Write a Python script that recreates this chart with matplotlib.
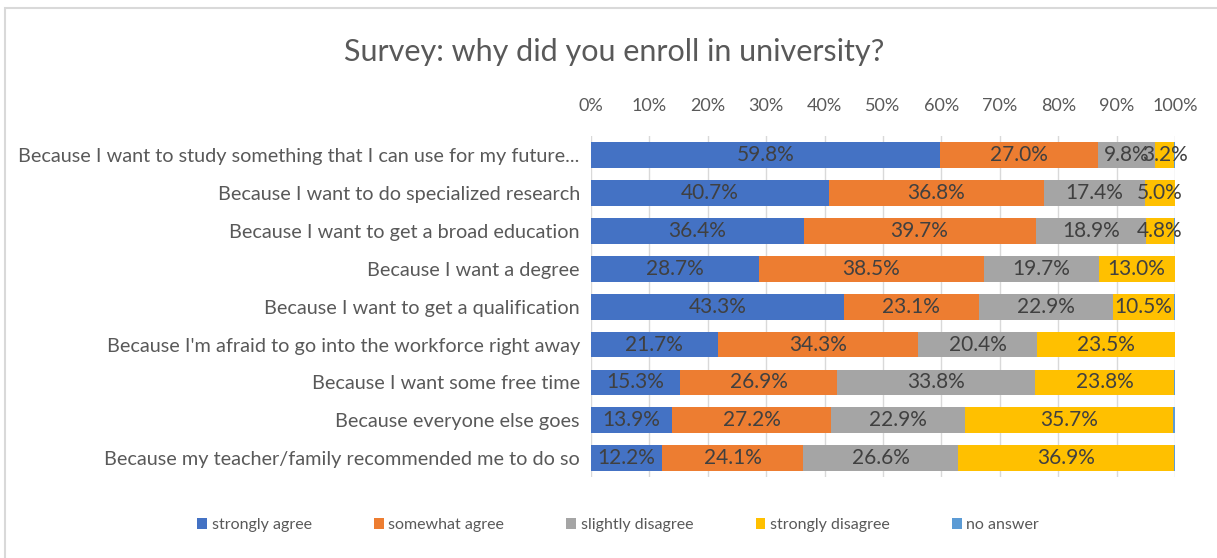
import numpy as np
import matplotlib.pyplot as plt
from matplotlib.patches import Rectangle

plt.rcParams['font.family'] = ['Lato', 'DejaVu Sans']

reasons = [
    'Because I want to study something that I can use for my future...',
    'Because I want to do specialized research',
    'Because I want to get a broad education',
    'Because I want a degree',
    'Because I want to get a qualification',
    "Because I'm afraid to go into the workforce right away",
    'Because I want some free time',
    'Because everyone else goes',
    'Because my teacher/family recommended me to do so',
]
strongly_agree = [59.8, 40.7, 36.4, 28.7, 43.3, 21.7, 15.3, 13.9, 12.2]
somewhat_agree = [27.0, 36.8, 39.7, 38.5, 23.1, 34.3, 26.9, 27.2, 24.1]
slightly_disagree = [9.8, 17.4, 18.9, 19.7, 22.9, 20.4, 33.8, 22.9, 26.6]
strongly_disagree = [3.2, 5.0, 4.8, 13.0, 10.5, 23.5, 23.8, 35.7, 36.9]
no_answer = [0.2, 0.1, 0.2, 0.1, 0.2, 0.1, 0.2, 0.3, 0.2]

series = [
    ('strongly agree', strongly_agree, '#4472C4'),
    ('somewhat agree', somewhat_agree, '#ED7D31'),
    ('slightly disagree', slightly_disagree, '#A5A5A5'),
    ('strongly disagree', strongly_disagree, '#FFC000'),
    ('no answer', no_answer, '#5B9BD5'),
]

fig = plt.figure(figsize=(12.17, 5.58), dpi=100)
ax = fig.add_axes([0.4856, 0.145, 0.48, 0.611])

# outer chart frame
fig.patches.append(Rectangle((0.004, -0.01), 1.0, 0.996, transform=fig.transFigure,
                             fill=False, edgecolor='#D9D9D9', lw=1.5))

y = np.arange(len(reasons))
left = np.zeros(len(reasons))
for name, vals, col in series:
    vals = np.array(vals)
    bars = ax.barh(y, vals, left=left, height=0.68, color=col, label=name, zorder=2)
    if name != 'no answer':
        ax.bar_label(bars, labels=['%.1f%%' % v for v in vals], label_type='center',
                     color='#404040', fontsize=15)
    left += vals

ax.set_xlim(0, 100)
ax.set_ylim(len(reasons) - 0.5, -0.5)
ax.set_yticks(y)
ax.set_yticklabels(reasons, fontsize=14.3, color='#595959')
ax.set_xticks(np.arange(0, 101, 10))
ax.set_xticklabels(['%d%%' % t for t in range(0, 101, 10)], fontsize=13, color='#595959')
ax.xaxis.tick_top()
ax.tick_params(axis='x', length=0, pad=16)
ax.tick_params(axis='y', length=0, pad=8)
ax.grid(axis='x', color='#D9D9D9', lw=1, zorder=0)
ax.set_axisbelow(True)
for s in ax.spines.values():
    s.set_visible(False)

fig.text(0.505, 0.906, 'Survey: why did you enroll in university?', ha='center', va='center',
         fontsize=22, color='#595959')

fig.legend(loc='center', bbox_to_anchor=(0.508, 0.059), ncol=5, frameon=False, fontsize=11.5,
           handlelength=0.6, handleheight=0.6, handletextpad=0.3, columnspacing=3.9,
           labelcolor='#595959')

fig.savefig('out.png', dpi=100)
